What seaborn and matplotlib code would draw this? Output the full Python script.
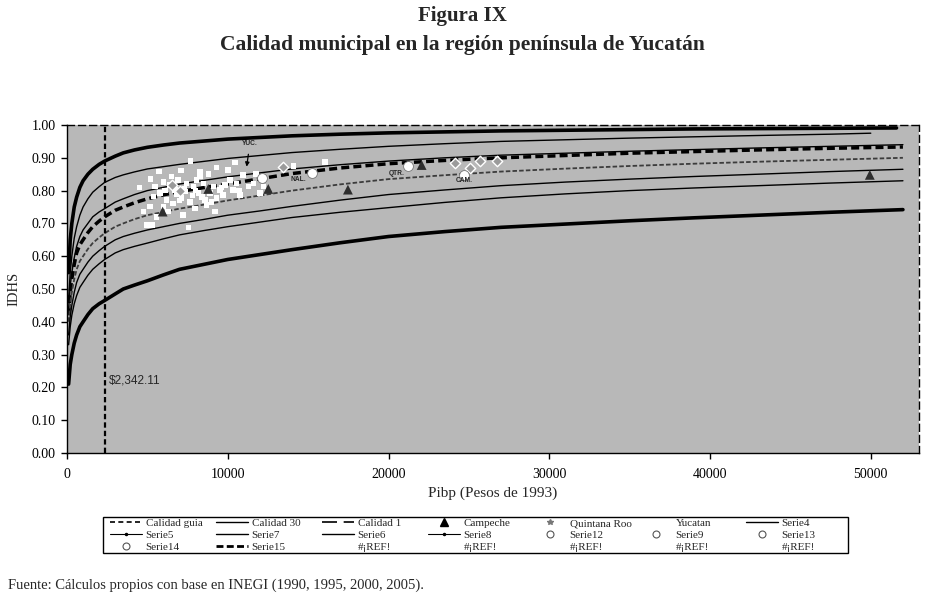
import numpy as np
import pandas as pd
import matplotlib
matplotlib.use("Agg")
import matplotlib.pyplot as plt
from matplotlib.lines import Line2D
from matplotlib.patches import Rectangle
import seaborn as sns

# ---------------- data ----------------
curve_x = [100, 200, 300, 450, 600, 800, 1000, 1300, 1600, 2000, 2342, 3000,
           3500, 4200, 5000, 6000, 7000, 8500, 10000, 12000, 14000, 17000,
           20000, 23500, 27000, 31000, 35000, 39000, 43000, 47500, 52000]
top_thick = [0.55, 0.65, 0.70, 0.75, 0.78, 0.81, 0.83, 0.85, 0.865, 0.88, 0.89,
             0.905, 0.915, 0.924, 0.932, 0.939, 0.945, 0.951, 0.957, 0.962,
             0.967, 0.972, 0.976, 0.979, 0.982, 0.984, 0.986, 0.988, 0.989,
             0.990, 0.991]
thin_b = [0.47, 0.55, 0.60, 0.655, 0.69, 0.725, 0.75, 0.775, 0.795, 0.812,
          0.825, 0.840, 0.848, 0.857, 0.866, 0.873, 0.88, 0.889, 0.898, 0.907,
          0.916, 0.926, 0.935, 0.943, 0.95, 0.955, 0.96, 0.964, 0.968, 0.972,
          0.975]
thin_c = [0.44, 0.51, 0.55, 0.595, 0.63, 0.66, 0.68, 0.70, 0.72, 0.735, 0.745,
          0.765, 0.775, 0.788, 0.80, 0.81, 0.82, 0.831, 0.842, 0.854, 0.866,
          0.879, 0.89, 0.90, 0.908, 0.914, 0.92, 0.925, 0.93, 0.935, 0.94]
dashed_thick = [0.42, 0.49, 0.53, 0.575, 0.61, 0.635, 0.65, 0.672, 0.69, 0.707,
                0.72, 0.74, 0.75, 0.763, 0.775, 0.787, 0.797, 0.809, 0.82,
                0.836, 0.852, 0.869, 0.882, 0.892, 0.90, 0.907, 0.914, 0.919,
                0.924, 0.929, 0.933]
dotted_mid = [0.40, 0.455, 0.49, 0.53, 0.56, 0.585, 0.60, 0.622, 0.64, 0.657,
              0.67, 0.69, 0.70, 0.713, 0.725, 0.735, 0.745, 0.757, 0.77, 0.785,
              0.80, 0.819, 0.835, 0.847, 0.858, 0.867, 0.875, 0.882, 0.888,
              0.894, 0.90]
thin_d = [0.36, 0.415, 0.45, 0.49, 0.52, 0.545, 0.56, 0.582, 0.60, 0.617, 0.63,
          0.65, 0.66, 0.67, 0.68, 0.69, 0.70, 0.712, 0.725, 0.738, 0.752,
          0.771, 0.788, 0.802, 0.815, 0.826, 0.835, 0.843, 0.85, 0.858, 0.865]
thin_e = [0.33, 0.385, 0.42, 0.455, 0.48, 0.505, 0.52, 0.542, 0.56, 0.577, 0.59,
          0.61, 0.62, 0.63, 0.64, 0.653, 0.665, 0.678, 0.69, 0.704, 0.718,
          0.734, 0.748, 0.764, 0.778, 0.79, 0.80, 0.808, 0.815, 0.823, 0.83]
bottom_thick = [0.21, 0.27, 0.30, 0.335, 0.36, 0.385, 0.40, 0.422, 0.44, 0.455,
                0.465, 0.485, 0.50, 0.512, 0.525, 0.543, 0.56, 0.575, 0.59,
                0.605, 0.62, 0.641, 0.66, 0.675, 0.688, 0.698, 0.708, 0.717,
                0.725, 0.734, 0.742]

guide_x = 2342.11

yuc_x = [7690, 9310, 10450, 7090, 5740, 5200, 4500, 8270, 8790, 10960, 11750,
         12210, 12000, 5990, 6400, 6720, 7440, 7860, 8170, 8480, 9100, 9510,
         9830, 10140, 10340, 10550, 11280, 5780, 5370, 6200, 6610, 5990, 7130,
         7650, 7960, 8580, 8690, 9310, 9720, 5160, 4960, 5330, 7545, 9200,
         7230, 6300, 5580, 4750, 10030, 11590, 14080, 16040, 8270, 6920, 7340,
         8890, 10760, 8060, 6510, 5470, 6800, 7300, 8000, 8400, 9000, 6100,
         7000, 7800, 9600, 10700]
yuc_y = [0.891, 0.871, 0.886, 0.861, 0.858, 0.835, 0.81, 0.845, 0.851, 0.848,
         0.851, 0.812, 0.792, 0.827, 0.817, 0.802, 0.822, 0.812, 0.792, 0.822,
         0.812, 0.802, 0.817, 0.832, 0.802, 0.822, 0.812, 0.792, 0.782, 0.771,
         0.761, 0.751, 0.777, 0.766, 0.746, 0.771, 0.756, 0.777, 0.787, 0.751,
         0.695, 0.695, 0.688, 0.736, 0.726, 0.736, 0.72, 0.736, 0.863, 0.822,
         0.875, 0.888, 0.858, 0.832, 0.797, 0.792, 0.787, 0.832, 0.843, 0.812,
         0.79, 0.805, 0.80, 0.78, 0.765, 0.80, 0.77, 0.785, 0.81, 0.80]

cam_x = [5950, 8790, 12520, 17475, 22060, 49940]
cam_y = [0.736, 0.805, 0.805, 0.803, 0.878, 0.848]

qroo_x = [6510, 7030, 13450, 24130, 25060, 25680, 26720]
qroo_y = [0.817, 0.800, 0.873, 0.883, 0.870, 0.891, 0.891]

avg_x = [12150, 15215, 21230, 24710]
avg_y = [0.838, 0.853, 0.875, 0.848]

y_ticks = [0.0, 0.1, 0.2, 0.3, 0.4, 0.5, 0.6, 0.7, 0.8, 0.9, 1.0]
x_ticks = [0, 10000, 20000, 30000, 40000, 50000]

legend_labels = ["Calidad guia", "Calidad 30", "Calidad 1", "Campeche",
                 "Quintana Roo", "Yucatan", "Serie4",
                 "Serie5", "Serie7", "Serie6", "Serie8", "Serie12", "Serie9",
                 "Serie13",
                 "Serie14", "Serie15", "#¡REF!", "#¡REF!", "#¡REF!", "#¡REF!",
                 "#¡REF!"]

# ---------------- figure ----------------
sns.set_style("ticks")
plt.rcParams["font.family"] = ["Liberation Serif", "DejaVu Serif"]

W, H = 925, 598
fig = plt.figure(figsize=(W / 100, H / 100), dpi=100)
ax = fig.add_axes([67 / W, 1 - 453 / H, (919 - 67) / W, (453 - 125) / H])
ax.set_facecolor("#b8b8b8")

curves = [
    (top_thick, dict(color="black", lw=2.6, ls="-"), 51600),
    (thin_b, dict(color="black", lw=1.0, ls="-"), 50000),
    (thin_c, dict(color="black", lw=1.0, ls="-"), None),
    (dashed_thick, dict(color="black", lw=2.5, ls=(0, (2.3, 1.2))), None),
    (dotted_mid, dict(color="#3c3c3c", lw=1.3, ls=(0, (2.5, 1.2))), None),
    (thin_d, dict(color="black", lw=1.0, ls="-"), None),
    (thin_e, dict(color="black", lw=1.0, ls="-"), None),
    (bottom_thick, dict(color="black", lw=2.6, ls="-"), None),
]
for vals, st, last_x in curves:
    xs = list(curve_x)
    if last_x is not None:
        xs[-1] = last_x
    df = pd.DataFrame({"x": xs, "y": vals})
    sns.lineplot(data=df, x="x", y="y", ax=ax, estimator=None, sort=True,
                 color=st["color"], linewidth=st["lw"], linestyle=st["ls"],
                 legend=False)

ax.axvline(guide_x, color="black", lw=1.6, ls=(0, (2.4, 1.4)))
ax.text(guide_x + 250, 0.22, "$2,342.11", fontsize=8.5,
        family="Liberation Sans", va="center", ha="left")

# scatter
sns.scatterplot(x=yuc_x, y=yuc_y, ax=ax, marker="s", color="white", s=16,
                edgecolor="none", legend=False, zorder=5)
sns.scatterplot(x=cam_x, y=cam_y, ax=ax, marker="^", color="#2e2e2e", s=50,
                edgecolor="none", legend=False, zorder=6)
sns.scatterplot(x=qroo_x, y=qroo_y, ax=ax, marker="D", color="#9a9a9a", s=28,
                edgecolor="white", linewidth=1.0, legend=False, zorder=6)
sns.scatterplot(x=avg_x, y=avg_y, ax=ax, marker="o", color="white", s=50,
                edgecolor="#777777", linewidth=0.6, legend=False, zorder=7)

# labels
lab_kw = dict(fontsize=4.8, family="Liberation Sans", fontweight="bold",
              ha="center", va="center", zorder=8)
ax.annotate("YUC.", xy=(11175, 0.873), xytext=(11380, 0.944), fontsize=4.8,
            family="Liberation Sans", fontweight="bold", ha="center",
            va="center", zorder=8,
            arrowprops=dict(arrowstyle="-|>", color="black", lw=0.9,
                            mutation_scale=6, shrinkA=3, shrinkB=0))
ax.text(14385, 0.834, "NAL.", **lab_kw)
ax.text(20500, 0.853, "QTR.", **lab_kw)
ax.text(24690, 0.832, "CAM.", **lab_kw)

# axes
ax.set_xlim(0, 53000)
ax.set_ylim(0, 1.0)
ax.set_xticks(x_ticks)
ax.set_xticklabels([str(t) for t in x_ticks])
ax.set_yticks(y_ticks)
ax.set_yticklabels([f"{t:.2f}" for t in y_ticks])
ax.tick_params(axis="both", direction="out", length=4, width=1,
               color="black", labelsize=10, labelcolor="black")
ax.tick_params(axis="x", pad=7)
ax.tick_params(axis="y", pad=4)
ax.set_xlabel("Pibp (Pesos de 1993)", fontsize=11, labelpad=4)
ax.set_ylabel("IDHS", fontsize=10.5, labelpad=8)
for side in ["left", "bottom"]:
    ax.spines[side].set_color("black")
    ax.spines[side].set_linewidth(1.0)
for side in ["top", "right"]:
    ax.spines[side].set_visible(True)
    ax.spines[side].set_color("black")
    ax.spines[side].set_linewidth(1.0)
    ax.spines[side].set_linestyle((0, (5, 3)))
ax.grid(False)

# legend: Excel-like grid of 7 equal columns x 3 rows
def handle(kind):
    if kind == "dash_short":
        return Line2D([], [], color="black", lw=1.2, ls=(0, (3, 2)))
    if kind == "solid":
        return Line2D([], [], color="black", lw=1.0)
    if kind == "long_dash":
        return Line2D([], [], color="black", lw=1.2, ls=(0, (9, 4)))
    if kind == "tri":
        return Line2D([], [], color="black", ls="none", marker="^", ms=6)
    if kind == "star":
        return Line2D([], [], color="#777777", ls="none", marker="*", ms=4)
    if kind == "none":
        return Line2D([], [], color="none", ls="none")
    if kind == "dotline":
        return Line2D([0, 1], [0, 0], color="black", lw=0.8, marker=".",
                      ms=3, markevery=[0])
    if kind == "circle":
        return Line2D([], [], color="#555555", ls="none", marker="o", ms=5,
                      mfc="white", mew=0.8)
    if kind == "thick_dash":
        return Line2D([], [], color="black", lw=2.0, ls=(0, (2.5, 1.2)))
    return Line2D([], [], color="black")

row_kinds = ["dash_short", "solid", "long_dash", "tri", "star", "none", "solid",
             "dotline", "solid", "solid", "dotline", "circle", "circle", "circle",
             "circle", "thick_dash", "none", "none", "none", "none", "none"]
nrow, ncol = 3, 7
box_x0, box_x1, box_y0, box_y1 = 103, 848, 517, 553
col_x0, col_step = 110, 106
for c in range(ncol):
    hs = [handle(row_kinds[r * ncol + c]) for r in range(nrow)]
    ls_ = [legend_labels[r * ncol + c] for r in range(nrow)]
    lg = fig.legend(hs, ls_, loc="upper left",
                    bbox_to_anchor=((col_x0 + c * col_step) / W,
                                    1 - (box_y0 + 1.5) / H),
                    fontsize=8, frameon=False, borderpad=0.0,
                    labelspacing=0.2, handlelength=2.9, handletextpad=0.3,
                    borderaxespad=0)
fig.patches.append(Rectangle((box_x0 / W, 1 - box_y1 / H),
                             (box_x1 - box_x0) / W, (box_y1 - box_y0) / H,
                             transform=fig.transFigure, fill=False,
                             edgecolor="black", linewidth=1.0))

# titles and source
fig.text(0.5, 1 - 16 / H, "Figura IX", ha="center", va="center",
         fontsize=15, fontweight="bold")
fig.text(0.5, 1 - 45 / H,
         "Calidad municipal en la región península de Yucatán",
         ha="center", va="center", fontsize=15.5, fontweight="bold")
fig.text(8 / W, 1 - 585 / H,
         "Fuente: Cálculos propios con base en INEGI (1990, 1995, 2000, 2005).",
         ha="left", va="center", fontsize=10.5)

fig.savefig("out.png", dpi=100, facecolor="white")
